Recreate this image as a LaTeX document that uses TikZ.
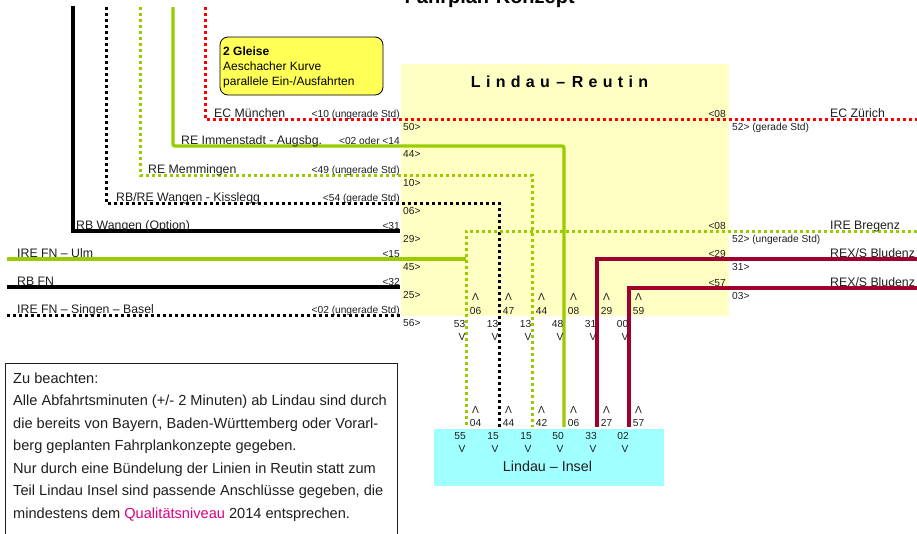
\documentclass[tikz,border=0pt]{standalone}
\usepackage{fontspec}
\setmainfont{Liberation Sans}
\definecolor{lgreen}{RGB}{153,204,0}
\definecolor{dred}{RGB}{160,0,45}
\definecolor{ecred}{RGB}{255,0,0}
\definecolor{boxyellow}{RGB}{255,255,195}
\definecolor{noteyellow}{RGB}{255,255,85}
\definecolor{inselcyan}{RGB}{160,255,255}
\definecolor{qmag}{RGB}{220,0,130}
\definecolor{txt}{RGB}{30,30,30}
\tikzset{
  solidrail/.style={line width=3.3pt},
  dotrail/.style={line width=3pt, dash pattern=on 3pt off 3pt},
  lbl/.style={font=\fontsize{12.3}{14}\selectfont, text=txt, inner sep=0pt, anchor=base west},
  minl/.style={font=\fontsize{10.2}{12}\selectfont, text=txt, inner sep=0pt, anchor=base east},
  minr/.style={font=\fontsize{10.2}{12}\selectfont, text=txt, inner sep=0pt, anchor=base west},
  num/.style={font=\fontsize{10.2}{12}\selectfont, text=txt, inner sep=0pt, anchor=base},
  notetxt/.style={font=\fontsize{14.6}{17}\selectfont, text=txt, inner sep=0pt, anchor=base west},
  gleistxt/.style={font=\fontsize{12}{14}\selectfont, inner sep=0pt, anchor=base west},
}
\begin{document}
\begin{tikzpicture}[x=1pt,y=-1pt]
\useasboundingbox (0,0) rectangle (917,533);
% title (cut off at top, as in the reference)
\node[font=\fontsize{20}{24}\selectfont\bfseries, inner sep=0pt, anchor=base west] (title) at (404.5,3) {Fahrplan-Konzept};
% station boxes
\fill[boxyellow] (401,64) rectangle (729,316);
\node[font=\fontsize{16}{18}\selectfont\bfseries, inner sep=0pt, anchor=base] (reutin) at (559.5,87)
  {L\kern5.3pt i\kern5.3pt n\kern5.3pt d\kern5.3pt a\kern5.3pt u\kern6.5pt –\kern6.5pt R\kern5.3pt e\kern5.3pt u\kern5.3pt t\kern5.3pt i\kern5.3pt n};
\fill[inselcyan] (434,429) rectangle (664,486);
\node[font=\fontsize{14.3}{16}\selectfont, text=txt, inner sep=0pt, anchor=base] (insel) at (547.5,471) {Lindau – Insel};
% note box "2 Gleise"
\draw[rounded corners=8pt, fill=noteyellow, line width=0.8pt] (220,37) rectangle (383,95);
\node[gleistxt, font=\fontsize{12}{14}\selectfont\bfseries] (g1) at (223,55.7) {2 Gleise};
\node[gleistxt] (g2) at (223,70.5) {Aeschacher Kurve};
\node[gleistxt] (g3) at (223,85.3) {parallele Ein-/Ausfahrten};
% coordinates
\coordinate (ecT) at (205,7);   \coordinate (ecC) at (205,119);  \coordinate (ecE) at (917,119);
\coordinate (imT) at (173,7);   \coordinate (imC) at (173,146);  \coordinate (imD) at (564,146); \coordinate (imE) at (564,427);
\coordinate (meT) at (140,7);   \coordinate (meC) at (140,175);  \coordinate (meD) at (532,175); \coordinate (meE) at (532,427);
\coordinate (kiT) at (106,7);   \coordinate (kiC) at (106,203);  \coordinate (kiD) at (499,203); \coordinate (kiE) at (499,427);
\coordinate (waT) at (73,6);    \coordinate (waC) at (73,231);   \coordinate (waE) at (400,231);
\coordinate (brS) at (917,231); \coordinate (brC) at (466,231);  \coordinate (brE) at (466,427);
\coordinate (ulS) at (7,259);   \coordinate (ulE) at (466,259);
\coordinate (x1S) at (917,259); \coordinate (x1C) at (597,259);  \coordinate (x1E) at (597,427);
\coordinate (fnS) at (7,287);   \coordinate (fnE) at (400,287);
\coordinate (x2S) at (917,288); \coordinate (x2C) at (629,288);  \coordinate (x2E) at (629,427);
\coordinate (sbS) at (7,315);   \coordinate (sbE) at (400,315);
% rails
\draw[dotrail, ecred] (ecT) -- (ecC) -- (ecE);
\draw[solidrail, lgreen, rounded corners=2pt] (imT) -- (imC) -- (imD) -- (imE);
\draw[dotrail, lgreen] (meT) -- (meC) -- (meD) -- (meE);
\draw[dotrail, black] (kiT) -- (kiC) -- (kiD) -- (kiE);
\draw[solidrail, black] (waT) -- (waC) -- (waE);
\draw[dotrail, lgreen] (brS) -- (brC) -- (brE);
\draw[solidrail, lgreen] (ulS) -- (ulE);
\draw[solidrail, dred] (x1S) -- (x1C) -- (x1E);
\draw[solidrail, black] (fnS) -- (fnE);
\draw[solidrail, dred] (x2S) -- (x2C) -- (x2E);
\draw[dotrail, black] (sbS) -- (sbE);
% line names left
\node[lbl] (nEC) at (214,117) {EC München};
\node[lbl] (nIM) at (181,144) {RE Immenstadt - Augsbg.};
\node[lbl] (nME) at (148,173) {RE Memmingen};
\node[lbl] (nKI) at (116,201.5) {RB/RE Wangen - Kisslegg};
\node[lbl] (nWA) at (76,229.5) {RB Wangen (Option)};
\node[lbl] (nUL) at (17,257.5) {IRE FN – Ulm};
\node[lbl] (nFN) at (17,285.5) {RB FN};
\node[lbl] (nSB) at (17,313.5) {IRE FN – Singen – Basel};
% line names right
\node[lbl] (nZU) at (830,117) {EC Zürich};
\node[lbl] (nBR) at (830,229) {IRE Bregenz};
\node[lbl] (nX1) at (830,257.5) {REX/S Bludenz};
\node[lbl] (nX2) at (830,286) {REX/S Bludenz};
% minutes west side
\node[minl] (aEC) at (400,117) {<10 (ungerade Std)};
\node[minl] (aIM) at (400,144) {<02 oder <14};
\node[minl] (aME) at (400,173) {<49 (ungerade Std)};
\node[minl] (aKI) at (400,201) {<54 (gerade Std)};
\node[minl] (aWA) at (400,229) {<31};
\node[minl] (aUL) at (400,257) {<15};
\node[minl] (aFN) at (400,285) {<32};
\node[minl] (aSB) at (400,313) {<02 (ungerade Std)};
\node[minr] (dEC) at (403,130.5) {50>};
\node[minr] (dIM) at (403,157.5) {44>};
\node[minr] (dME) at (403,186.5) {10>};
\node[minr] (dKI) at (403,214.5) {06>};
\node[minr] (dWA) at (403,242.5) {29>};
\node[minr] (dUL) at (403,270.5) {45>};
\node[minr] (dFN) at (403,298.5) {25>};
\node[minr] (dSB) at (403,326.5) {56>};
% minutes east side
\node[minl] (aZU) at (726,117) {<08};
\node[minr] (dZU) at (732,130.5) {52> (gerade Std)};
\node[minl] (aBR) at (726,229) {<08};
\node[minr] (dBR) at (732,242.5) {52> (ungerade Std)};
\node[minl] (aX1) at (726,257) {<29};
\node[minr] (dX1) at (732,270.5) {31>};
\node[minl] (aX2) at (726,286) {<57};
\node[minr] (dX2) at (732,299) {03>};
% column minutes between Reutin and Insel
\foreach \L/\a/\b/\c/\d [count=\i] in {466/06/53/04/55, 499/47/13/44/15, 532/44/13/42/15, 564/08/48/06/50, 597/29/31/27/33, 629/59/00/57/02}{
  \node[num] (uA\i) at ({\L+9.5},300.6) {Λ};
  \node[num] (uN\i) at ({\L+9.5},314) {\a};
  \node[num] (bN\i) at ({\L-6.5},327) {\b};
  \node[num] (bV\i) at ({\L-4},340) {V};
  \node[num] (lA\i) at ({\L+9.5},413.3) {Λ};
  \node[num] (lN\i) at ({\L+9.5},426.6) {\c};
  \node[num] (iN\i) at ({\L-6},439.6) {\d};
  \node[num] (iV\i) at ({\L-4},452.3) {V};
}
% remark box
\draw[line width=0.8pt, draw=txt] (5,545) -- (5,363) -- (397,363) -- (397,545);
\node[notetxt] (r1) at (13,383.3) {Zu beachten:};
\node[notetxt] (r2) at (13,405.8) {Alle Abfahrtsminuten (+/- 2 Minuten) ab Lindau sind durch};
\node[notetxt] (r3) at (13,428.3) {die bereits von Bayern, Baden-Württemberg oder Vorarl-};
\node[notetxt] (r4) at (13,450.8) {berg geplanten Fahrplankonzepte gegeben.};
\node[notetxt] (r5) at (13,473.3) {Nur durch eine Bündelung der Linien in Reutin statt zum};
\node[notetxt] (r6) at (13,495.8) {Teil Lindau Insel sind passende Anschlüsse gegeben, die};
\node[notetxt] (r7) at (13,518.3) {mindestens dem {\color{qmag}Qualitätsniveau} 2014 entsprechen.};
\end{tikzpicture}
\end{document}
